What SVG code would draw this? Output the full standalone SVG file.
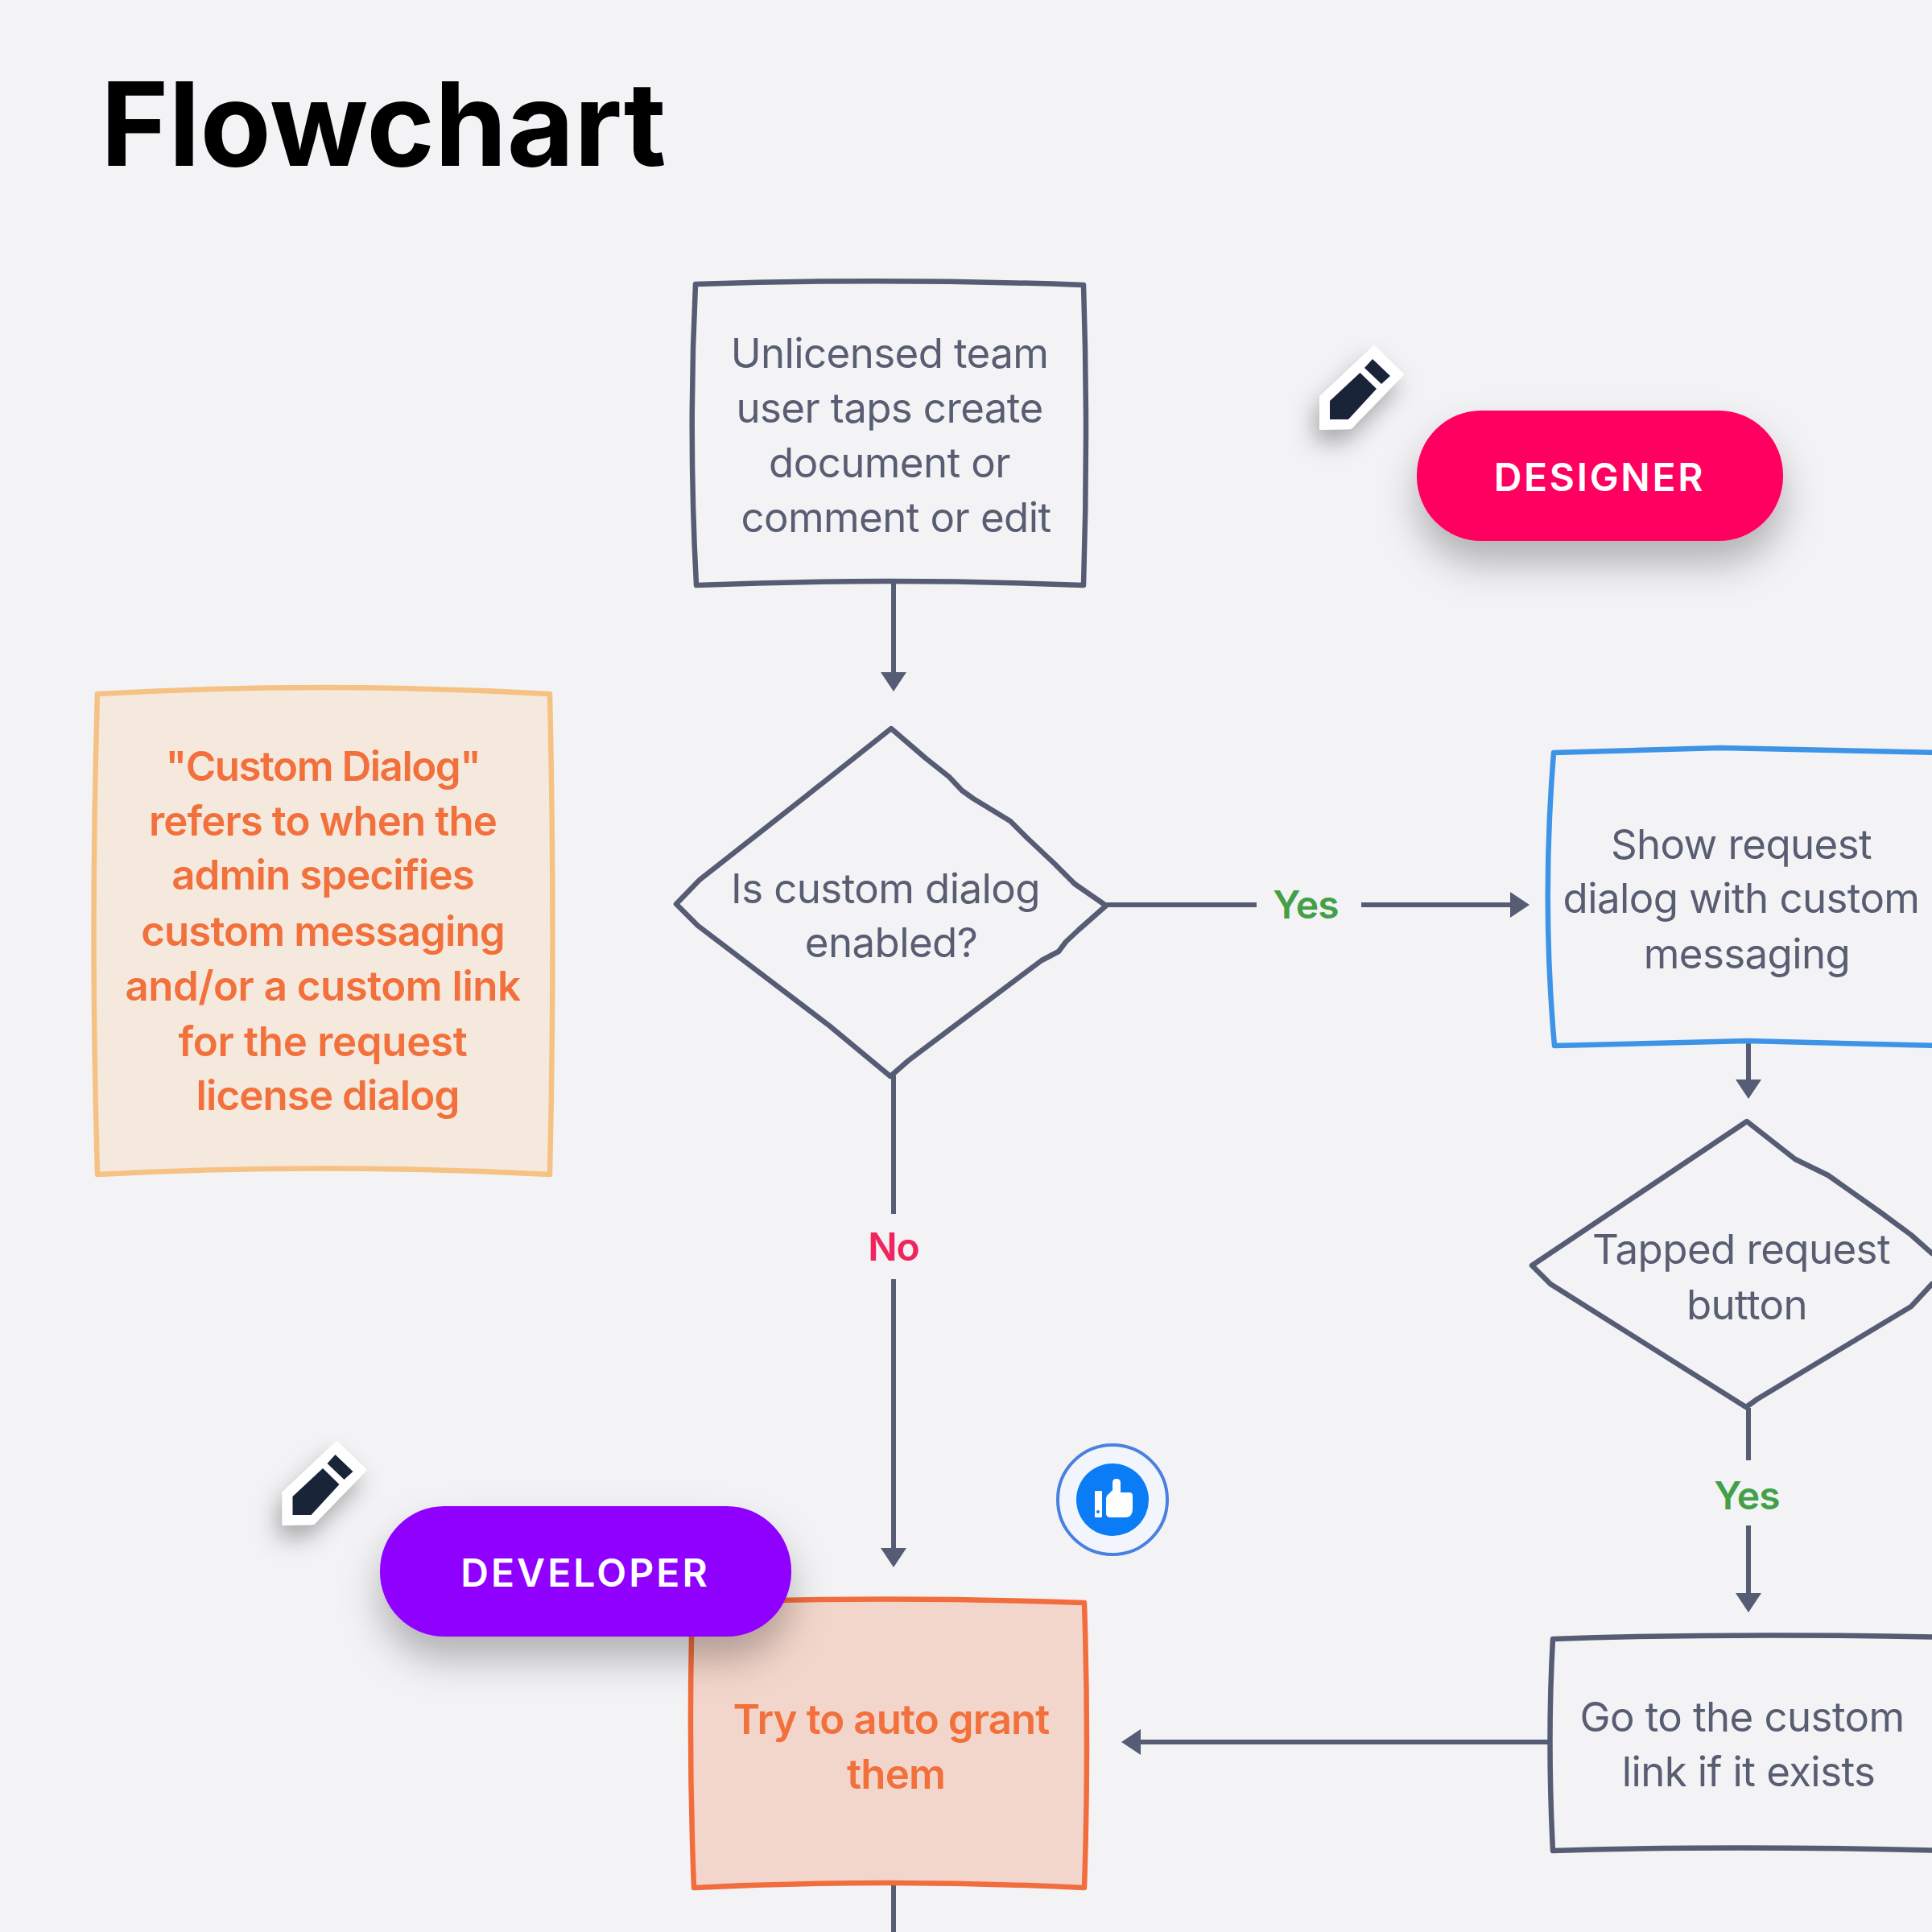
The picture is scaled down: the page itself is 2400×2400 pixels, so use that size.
<svg xmlns="http://www.w3.org/2000/svg" width="2400" height="2400" viewBox="0 0 2400 2400">
<style>
text{font-family:Inter,"Liberation Sans",sans-serif;text-anchor:middle}
.t{font-size:51px;fill:#585d72;letter-spacing:-.6px}
.o{font-size:51px;fill:#f2703c;font-weight:600;letter-spacing:-.9px}
.s{fill:none;stroke:#565c73;stroke-width:6.5;stroke-linejoin:round}
.c{fill:none;stroke:#565c73;stroke-width:6}
.l{font-size:48px;font-weight:600;letter-spacing:-1px}
.p{font-size:48px;font-weight:600;fill:#fff;letter-spacing:3.1px}
.pd{fill:#1a2438}
</style>
<defs>
<marker id="a" markerUnits="userSpaceOnUse" markerWidth="26" markerHeight="36" refX="0" refY="18" orient="auto"><path d="M0 2L24 18L0 34z" fill="#565c73"/></marker>
<filter id="sh" x="-30%" y="-40%" width="160%" height="220%"><feDropShadow dx="0" dy="28" stdDeviation="24" flood-color="#000" flood-opacity=".27"/></filter>
<filter id="sh2" x="-80%" y="-80%" width="260%" height="280%"><feDropShadow dx="-6" dy="16" stdDeviation="14" flood-color="#000" flood-opacity=".3"/></filter>
</defs>
<rect width="2400" height="2400" fill="#f3f3f6"/>
<text x="125" y="206" style="text-anchor:start;font-size:144px;font-weight:700;fill:#000">Flowchart</text>
<g id="connectors">
<path class="c" d="M1110 722V835" marker-end="url(#a)"/>
<path class="c" d="M1373 1124H1561"/>
<path class="c" d="M1691 1124H1876" marker-end="url(#a)"/>
<path class="c" d="M2172 1293V1341" marker-end="url(#a)"/>
<path class="c" d="M2172 1749V1814"/>
<path class="c" d="M2172 1895V1979" marker-end="url(#a)"/>
<path class="c" d="M1924 2164H1417" marker-end="url(#a)"/>
<path class="c" d="M1110 1336V1508"/>
<path class="c" d="M1110 1589V1923" marker-end="url(#a)"/>
<path class="c" d="M1110 2340V2400"/>
<text class="l" x="1622" y="1141" fill="#43a047">Yes</text>
<text class="l" x="1110" y="1566" fill="#f0245e">No</text>
<text class="l" x="2170" y="1875" fill="#43a047">Yes</text>
</g>
<g id="start">
<path class="s" d="M864 353Q1100 345 1346 354Q1352 540 1346 727Q1100 717 865 727Q855 540 864 353z"/>
<text class="t" x="1105" y="457">Unlicensed team</text>
<text class="t" x="1105" y="525">user taps create</text>
<text class="t" x="1105" y="593">document or</text>
<text class="t" x="1113" y="661">comment or edit</text>
</g>
<g id="note">
<path d="M121 862Q400 846 683 862Q690 1160 683 1459Q400 1444 121 1459Q112 1160 121 862z" fill="#f5e9de" stroke="#f5c284" stroke-width="6.5" stroke-linejoin="round"/>
<text class="o" x="401" y="970" style="letter-spacing:-1.5px">"Custom Dialog"</text>
<text class="o" x="401" y="1038">refers to when the</text>
<text class="o" x="401" y="1105">admin specifies</text>
<text class="o" x="401" y="1175">custom messaging</text>
<text class="o" x="401" y="1243" style="letter-spacing:-.5px">and/or a custom link</text>
<text class="o" x="401" y="1312" style="letter-spacing:-.3px">for the request</text>
<text class="o" x="407" y="1379">license dialog</text>
</g>
<g id="decision1">
<path class="s" d="M1107 905L1150 942L1179 965L1195 982L1209 992L1232 1006L1255 1020L1275 1040L1309 1072L1335 1098L1374 1125L1340 1155L1324 1170L1315 1182L1294 1193L1129 1317L1106 1337L1030 1274L867 1150L840 1123L869 1093L1000 990z"/>
<text class="t" x="1100" y="1122">Is custom dialog</text>
<text class="t" x="1107" y="1189">enabled?</text>
</g>
<g id="custom-dialog">
<path d="M2410 935L2137 929L1930 935Q1915 1120 1931 1299L2171 1293L2410 1299" fill="none" stroke="#3d93e6" stroke-width="6.5" stroke-linejoin="round"/>
<text class="t" x="2163" y="1067">Show request</text>
<text class="t" x="2163" y="1134">dialog with custom</text>
<text class="t" x="2170" y="1203">messaging</text>
</g>
<g id="decision2">
<path class="s" d="M2170 1393L2230 1440L2271 1460L2336 1506L2374 1534L2400 1557L2440 1575L2400 1595L2374 1623L2183 1738L2169 1748L1926 1595L1903 1572z"/>
<text class="t" x="2163" y="1570">Tapped request</text>
<text class="t" x="2170" y="1639">button</text>
</g>
<g id="custom-link">
<path class="s" d="M1929 2036Q2150 2028 2420 2034V2299Q2150 2292 1929 2299Q1922 2160 1929 2036z"/>
<text class="t" x="2164" y="2151">Go to the custom</text>
<text class="t" x="2172" y="2219">link if it exists</text>
</g>
<g id="auto-grant">
<path d="M860 1991Q1100 1982 1347 1991Q1353 2170 1347 2345Q1100 2333 862 2345Q855 2170 860 1991z" fill="#f3d6cb" stroke="#f26d3d" stroke-width="6.5" stroke-linejoin="round"/>
<text class="o" x="1107" y="2154">Try to auto grant</text>
<text class="o" x="1113" y="2222">them</text>
</g>
<g id="thumb">
<circle cx="1382" cy="1863" r="68" fill="#f3f5fc" stroke="#4a80e0" stroke-width="4"/>
<circle cx="1382" cy="1863" r="45" fill="#0a7cf5"/>
<rect x="1360" y="1852" width="9" height="33" rx="1" fill="#fff"/>
<circle cx="1364" cy="1878" r="2" fill="#0a7cf5"/>
<path d="M1374 1861Q1374 1858 1377 1856L1382 1851V1842Q1382 1837 1387 1837Q1392 1837 1392 1842V1854H1403Q1407 1854 1407 1858V1875Q1407 1885 1397 1885H1380Q1374 1885 1374 1880z" fill="#fff"/>
</g>
<g id="designer-tag">
<g filter="url(#sh2)"><path d="M1707 430L1743 465L1678 532L1640 533L1640 493z" fill="#fff" stroke="#fff" stroke-width="2" stroke-linejoin="round"/></g>
<path class="pd" d="M1689.5 463L1710 483L1675 521H1652V498z"/>
<path class="pd" d="M1705 446L1727 467L1716 477L1695 457z"/>
<rect x="1760" y="510" width="455" height="162" rx="80" fill="#ff0060" filter="url(#sh)"/>
<text class="p" x="1987" y="610" style="letter-spacing:2.7px">DESIGNER</text>
</g>
<g id="developer-tag">
<g transform="translate(-1288.5 1361)">
<g filter="url(#sh2)"><path d="M1707 430L1743 465L1678 532L1640 533L1640 493z" fill="#fff" stroke="#fff" stroke-width="2" stroke-linejoin="round"/></g>
<path class="pd" d="M1689.5 463L1710 483L1675 521H1652V498z"/>
<path class="pd" d="M1705 446L1727 467L1716 477L1695 457z"/>
</g>
<rect x="472" y="1871" width="511" height="162" rx="80" fill="#8f00ff" filter="url(#sh)"/>
<text class="p" x="727" y="1971">DEVELOPER</text>
</g>
</svg>
